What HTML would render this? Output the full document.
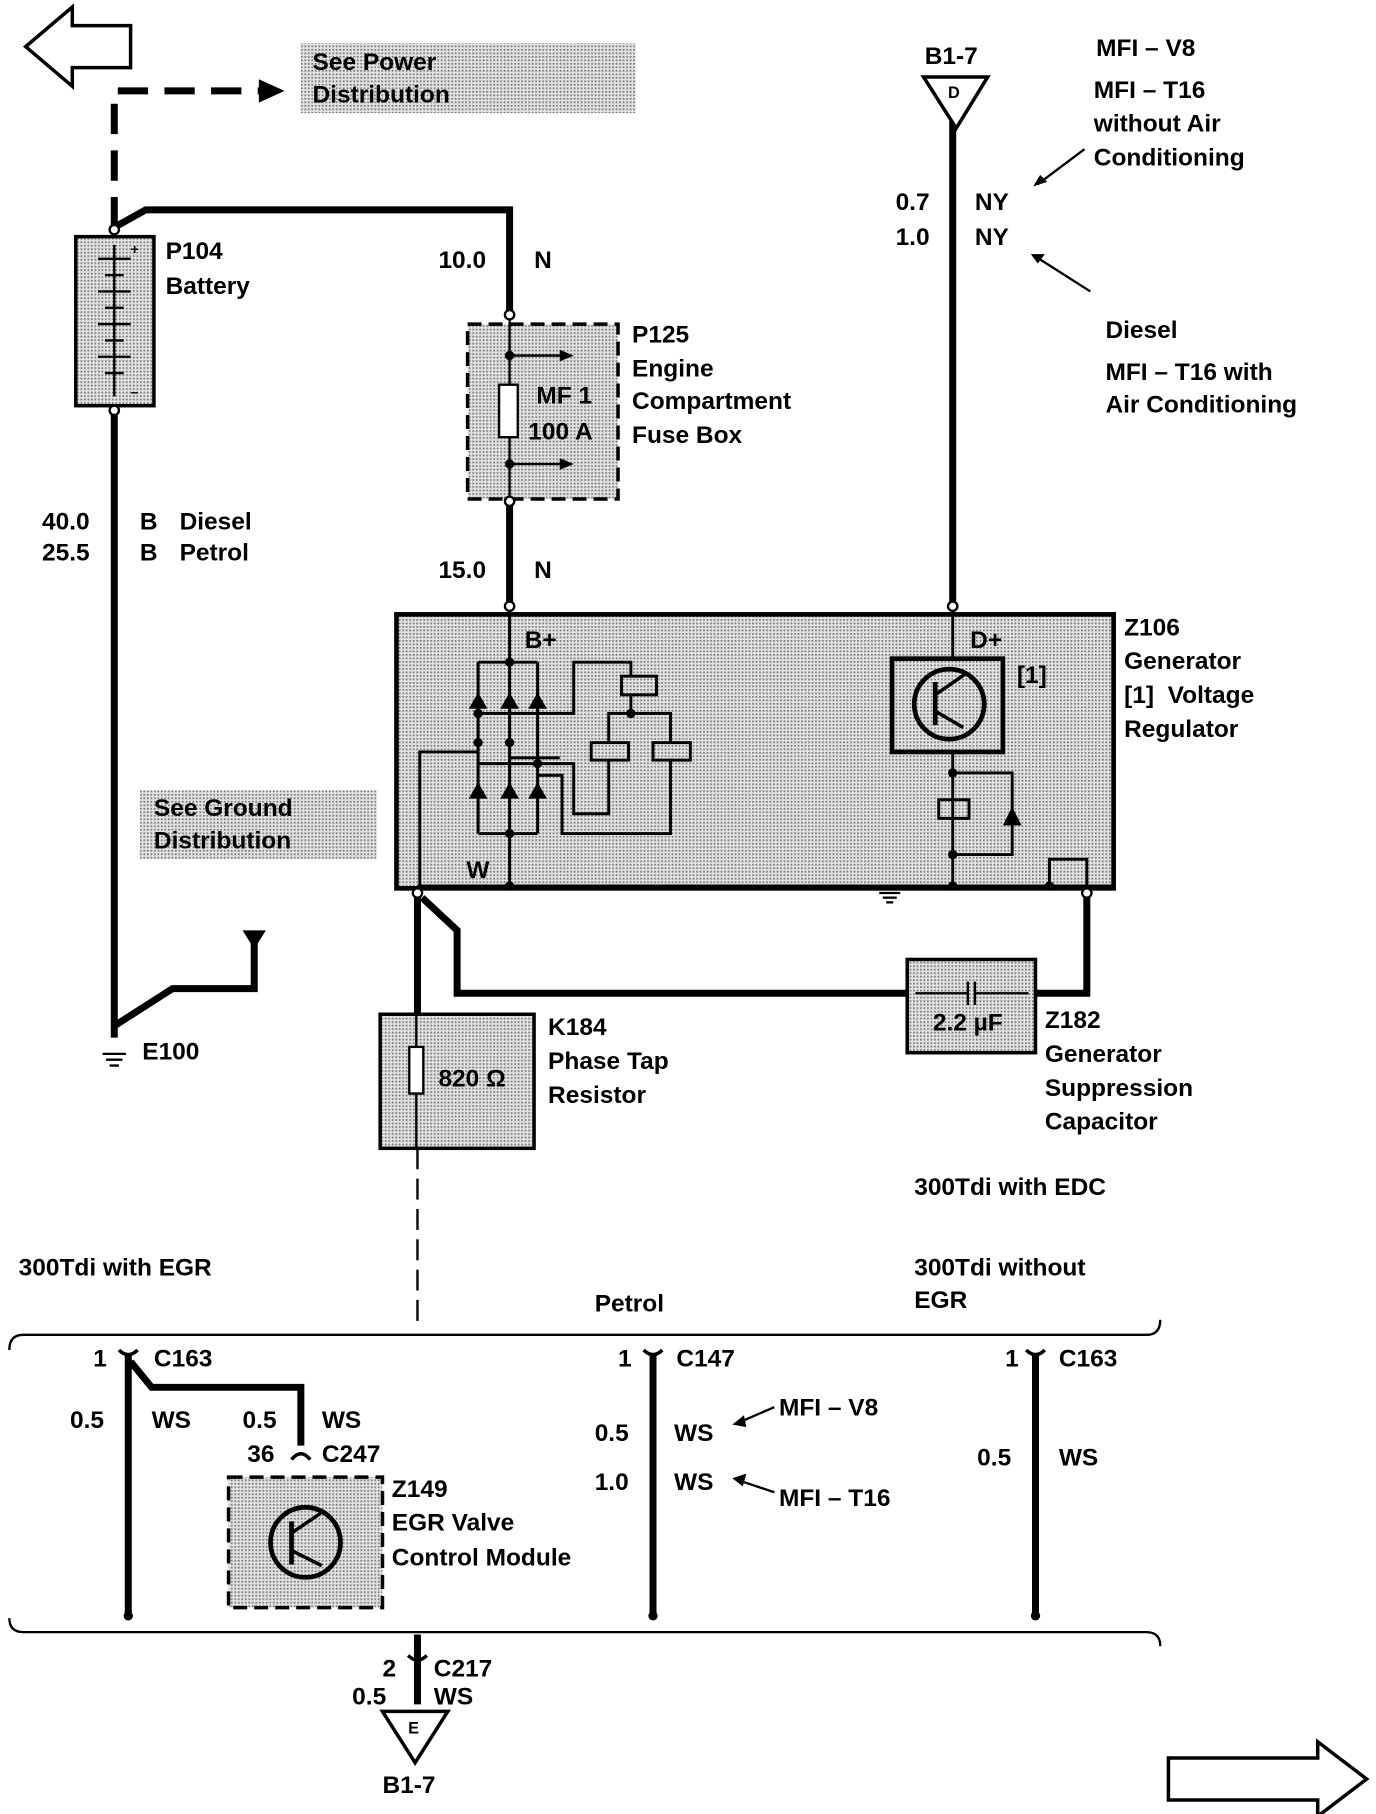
<!DOCTYPE html>
<html><head><meta charset="utf-8"><style>
html,body{margin:0;padding:0;background:#fff;}
svg{display:block;}
text{font-family:"Liberation Sans",Arial,sans-serif;font-weight:bold;font-size:21px;fill:#000;}
</style></head><body>
<svg width="1376" height="1814" viewBox="0 0 1180 1556" preserveAspectRatio="none" xmlns="http://www.w3.org/2000/svg">
<defs>
<pattern id="dots" width="3" height="3" patternUnits="userSpaceOnUse">
<rect width="3" height="3" fill="#e2e2e2"/><rect width="1.5" height="1.5" fill="#7a7a7a"/>
</pattern>
</defs>
<g stroke="#000" fill="none" stroke-width="3">
<!-- top-left arrow -->
<polygon points="22,40 62,6 62,22 112,22 112,58 62,58 62,74" stroke-width="3" fill="#fff"/>
<!-- bottom-right arrow -->
<polygon points="1002,1508 1130,1508 1130,1494 1172,1526 1130,1558 1130,1544 1002,1544" fill="#fff"/>
</g>
<rect x="258" y="37" width="287" height="60" fill="url(#dots)"/>
<text x="268" y="60">See Power</text><text x="268" y="88">Distribution</text>
<rect x="120" y="678" width="203" height="59" fill="url(#dots)"/>
<text x="132" y="700">See Ground</text><text x="132" y="728">Distribution</text>

<g stroke="#000" fill="none" stroke-width="6">
<polyline points="98,195 98,78 225,78" stroke-dasharray="26,14"/>
<polyline points="98,352 98,890"/>
<polyline points="98,880 148,848 218,848 218,808"/>
<polyline points="98,195 125,180 437,180 437,268"/>
<line x1="437" y1="430" x2="437" y2="518"/>
<line x1="817" y1="96" x2="817" y2="518"/>
<polyline points="358,770 358,870"/>
<polyline points="362,770 392,798 392,852 778,852"/>
<polyline points="888,852 932,852 932,768"/>
</g>
<polygon points="222,68 244,78 222,88" fill="#000"/>
<polygon points="208,798 228,798 218,814" fill="#000"/>
<!-- ground E100 -->
<g stroke="#000" stroke-width="2"><line x1="88" y1="904" x2="108" y2="904"/><line x1="91" y1="909" x2="105" y2="909"/><line x1="94" y1="914" x2="102" y2="914"/></g>
<text x="122" y="909">E100</text>

<!-- battery -->
<rect x="65" y="203" width="67" height="145" fill="url(#dots)" stroke="#000" stroke-width="3"/>
<g stroke="#000" stroke-width="2">
<line x1="98" y1="210" x2="98" y2="340"/>
<line x1="84" y1="222" x2="112" y2="222"/><line x1="90" y1="236" x2="106" y2="236"/>
<line x1="84" y1="250" x2="112" y2="250"/><line x1="90" y1="264" x2="106" y2="264"/>
<line x1="84" y1="278" x2="112" y2="278"/><line x1="90" y1="292" x2="106" y2="292"/>
<line x1="84" y1="306" x2="112" y2="306"/><line x1="90" y1="320" x2="106" y2="320"/>
</g>
<text x="112" y="218" style="font-size:12px">+</text><text x="112" y="340" style="font-size:12px">–</text>
<circle cx="98" cy="197" r="4" fill="#fff" stroke="#000" stroke-width="2"/>
<circle cx="98" cy="352" r="4" fill="#fff" stroke="#000" stroke-width="2"/>
<text x="142" y="222">P104</text><text x="142" y="252">Battery</text>
<text x="36" y="454">40.0</text><text x="120" y="454">B</text><text x="154" y="454">Diesel</text>
<text x="36" y="481">25.5</text><text x="120" y="481">B</text><text x="154" y="481">Petrol</text>

<!-- fuse box -->
<rect x="401" y="278" width="129" height="150" fill="url(#dots)" stroke="#000" stroke-width="3" stroke-dasharray="12,6"/>
<g stroke="#000" stroke-width="2" fill="none">
<line x1="437" y1="270" x2="437" y2="430"/>
<rect x="428" y="330" width="16" height="45" fill="#fff"/>
<line x1="437" y1="305" x2="485" y2="305"/><line x1="437" y1="398" x2="485" y2="398"/>
</g>
<polygon points="480,300 492,305 480,310" fill="#000"/><polygon points="480,393 492,398 480,403" fill="#000"/>
<circle cx="437" cy="305" r="4" fill="#000"/><circle cx="437" cy="398" r="4" fill="#000"/>
<circle cx="437" cy="270" r="4" fill="#fff" stroke="#000" stroke-width="2"/>
<circle cx="437" cy="430" r="4" fill="#fff" stroke="#000" stroke-width="2"/>
<text x="460" y="346">MF 1</text><text x="453" y="377">100 A</text>
<text x="542" y="294">P125</text><text x="542" y="323">Engine</text><text x="542" y="351">Compartment</text><text x="542" y="380">Fuse Box</text>
<text x="376" y="230">10.0</text><text x="458" y="230">N</text>
<text x="376" y="496">15.0</text><text x="458" y="496">N</text>

<!-- D connector top -->
<polygon points="792,66 847,66 820,110" fill="#fff" stroke="#000" stroke-width="3"/>
<text x="813" y="84" style="font-size:14px">D</text>
<text x="793" y="55">B1-7</text>
<text x="940" y="48">MFI – V8</text>
<text x="938" y="84">MFI – T16</text><text x="938" y="113">without Air</text><text x="938" y="142">Conditioning</text>
<text x="768" y="180">0.7</text><text x="836" y="180">NY</text>
<text x="768" y="210">1.0</text><text x="836" y="210">NY</text>
<g stroke="#000" stroke-width="2"><line x1="930" y1="128" x2="890" y2="158"/><line x1="935" y1="250" x2="888" y2="220"/></g>
<polygon points="886,160 892,150 898,156" fill="#000"/><polygon points="884,218 896,218 890,226" fill="#000"/>
<text x="948" y="290">Diesel</text>
<text x="948" y="326">MFI – T16 with</text><text x="948" y="354">Air Conditioning</text>

<!-- generator -->
<rect x="340" y="527" width="615" height="235" fill="url(#dots)" stroke="#000" stroke-width="4"/>
<g stroke="#000" stroke-width="2.5" fill="none">
<line x1="437" y1="520" x2="437" y2="760"/>
<polyline points="410,568 461,568"/>
<line x1="410" y1="568" x2="410" y2="715"/><line x1="461" y1="568" x2="461" y2="715"/>
<line x1="410" y1="715" x2="461" y2="715"/>
<polyline points="410,612 492,612 492,568 541,568 541,580"/>
<rect x="533" y="580" width="30" height="16"/>
<polyline points="541,596 541,612 575,612 575,637"/>
<polyline points="541,612 522,612 522,637"/>
<rect x="507" y="637" width="32" height="15"/><rect x="560" y="637" width="32" height="15"/>
<polyline points="522,652 522,698 492,698 492,655 410,655"/>
<polyline points="575,652 575,715 482,715 482,665 461,665"/>
<polyline points="360,765 360,645 410,645"/>
<line x1="437" y1="650" x2="480" y2="650"/>
<line x1="817" y1="520" x2="817" y2="565"/>
<rect x="765" y="565" width="95" height="80" stroke-width="4"/>
<circle cx="814" cy="604" r="30" stroke-width="4"/>
<line x1="802" y1="585" x2="802" y2="622" stroke-width="4"/>
<line x1="802" y1="596" x2="828" y2="578" stroke-width="3"/><line x1="802" y1="610" x2="826" y2="624" stroke-width="3"/>
<line x1="817" y1="645" x2="817" y2="760"/>
<polyline points="817,663 868,663 868,733 817,733"/>
<rect x="805" y="686" width="26" height="16"/>
<line x1="358" y1="760" x2="955" y2="760"/>
<polyline points="900,760 900,737 932,737 932,760"/>
</g>
<g fill="#000">
<polygon points="402,608 418,608 410,594"/><polygon points="429,608 445,608 437,594"/><polygon points="453,608 469,608 461,594"/>
<polygon points="402,685 418,685 410,671"/><polygon points="429,685 445,685 437,671"/><polygon points="453,685 469,685 461,671"/>
<polygon points="860,708 876,708 868,692"/>
<circle cx="437" cy="568" r="4"/><circle cx="410" cy="612" r="4"/><circle cx="410" cy="637" r="4"/><circle cx="437" cy="637" r="4"/>
<circle cx="461" cy="655" r="4"/><circle cx="541" cy="612" r="4"/><circle cx="437" cy="715" r="4"/>
<circle cx="437" cy="760" r="4"/><circle cx="817" cy="663" r="4"/><circle cx="817" cy="733" r="4"/><circle cx="817" cy="760" r="4"/><circle cx="900" cy="760" r="4"/>
</g>
<g stroke="#000" stroke-width="2"><line x1="754" y1="766" x2="772" y2="766"/><line x1="757" y1="770" x2="769" y2="770"/><line x1="760" y1="774" x2="766" y2="774"/></g>
<circle cx="437" cy="520" r="4" fill="#fff" stroke="#000" stroke-width="2"/>
<circle cx="817" cy="520" r="4" fill="#fff" stroke="#000" stroke-width="2"/>
<circle cx="358" cy="766" r="4" fill="#fff" stroke="#000" stroke-width="2"/>
<circle cx="932" cy="766" r="4" fill="#fff" stroke="#000" stroke-width="2"/>
<text x="450" y="556">B+</text><text x="832" y="556">D+</text><text x="872" y="586">[1]</text><text x="400" y="753">W</text>
<text x="964" y="545">Z106</text><text x="964" y="574">Generator</text><text x="964" y="603">[1]&#160;&#160;Voltage</text><text x="964" y="632">Regulator</text>

<!-- K184 -->
<rect x="326" y="870" width="132" height="115" fill="url(#dots)" stroke="#000" stroke-width="3"/>
<g stroke="#000" stroke-width="2" fill="none"><line x1="357" y1="870" x2="357" y2="985"/><rect x="351" y="898" width="12" height="40" fill="#fff"/></g>
<text x="376" y="932">820 Ω</text>
<text x="470" y="888">K184</text><text x="470" y="917">Phase Tap</text><text x="470" y="946">Resistor</text>
<!-- Z182 -->
<rect x="778" y="823" width="110" height="80" fill="url(#dots)" stroke="#000" stroke-width="3"/>
<g stroke="#000" stroke-width="2"><line x1="785" y1="852" x2="830" y2="852"/><line x1="836" y1="852" x2="882" y2="852"/><line x1="830" y1="842" x2="830" y2="862"/><line x1="836" y1="842" x2="836" y2="862"/></g>
<text x="800" y="884">2.2 µF</text>
<text x="896" y="882">Z182</text><text x="896" y="911">Generator</text><text x="896" y="940">Suppression</text><text x="896" y="969">Capacitor</text>
<line x1="358" y1="985" x2="358" y2="1140" stroke="#000" stroke-width="2" stroke-dasharray="18,8"/>

<text x="784" y="1025">300Tdi with EDC</text>
<text x="16" y="1094">300Tdi with EGR</text>
<text x="784" y="1094">300Tdi without</text><text x="784" y="1122">EGR</text>
<text x="510" y="1125">Petrol</text>

<!-- brackets -->
<g stroke="#000" stroke-width="2" fill="none">
<path d="M8,1158 Q8,1145 20,1145 L983,1145 Q995,1145 995,1132"/>
<path d="M8,1388 Q8,1400 20,1400 L983,1400 Q995,1400 995,1412"/>
</g>
<g stroke="#000" stroke-width="6" fill="none">
<line x1="110" y1="1162" x2="110" y2="1385"/>
<polyline points="112,1168 130,1190 258,1190 258,1240"/>
<line x1="560" y1="1162" x2="560" y2="1385"/>
<line x1="888" y1="1162" x2="888" y2="1385"/>
<line x1="358" y1="1402" x2="358" y2="1462"/>
</g>
<g fill="#000">
<circle cx="110" cy="1386" r="4"/><circle cx="560" cy="1386" r="4"/><circle cx="888" cy="1386" r="4"/>
</g>
<g stroke="#000" stroke-width="3" fill="none">
<path d="M102,1158 Q110,1166 118,1158"/><path d="M552,1158 Q560,1166 568,1158"/><path d="M880,1158 Q888,1166 896,1158"/>
<path d="M250,1252 Q258,1242 266,1252"/><path d="M350,1420 Q358,1428 366,1420"/>
</g>
<text x="80" y="1172">1</text><text x="132" y="1172">C163</text>
<text x="530" y="1172">1</text><text x="580" y="1172">C147</text>
<text x="862" y="1172">1</text><text x="908" y="1172">C163</text>
<text x="60" y="1225">0.5</text><text x="130" y="1225">WS</text>
<text x="208" y="1225">0.5</text><text x="276" y="1225">WS</text>
<text x="212" y="1254">36</text><text x="276" y="1254">C247</text>
<text x="510" y="1236">0.5</text><text x="578" y="1236">WS</text>
<text x="510" y="1278">1.0</text><text x="578" y="1278">WS</text>
<text x="668" y="1214">MFI – V8</text><text x="668" y="1292">MFI – T16</text>
<g stroke="#000" stroke-width="2"><line x1="664" y1="1207" x2="634" y2="1220"/><line x1="664" y1="1280" x2="634" y2="1270"/></g>
<polygon points="628,1222 638,1214 640,1224" fill="#000"/><polygon points="628,1268 640,1264 637,1275" fill="#000"/>
<text x="838" y="1257">0.5</text><text x="908" y="1257">WS</text>
<!-- Z149 -->
<rect x="196" y="1267" width="132" height="112" fill="url(#dots)" stroke="#000" stroke-width="3" stroke-dasharray="12,6"/>
<g stroke="#000" fill="none"><circle cx="262" cy="1323" r="30" stroke-width="4"/><line x1="250" y1="1305" x2="250" y2="1342" stroke-width="4"/>
<line x1="250" y1="1315" x2="275" y2="1298" stroke-width="3"/><line x1="250" y1="1330" x2="276" y2="1343" stroke-width="3"/></g>
<text x="336" y="1284">Z149</text><text x="336" y="1313">EGR Valve</text><text x="336" y="1343">Control Module</text>
<!-- bottom connector -->
<text x="328" y="1438">2</text><text x="372" y="1438">C217</text>
<text x="302" y="1462">0.5</text><text x="372" y="1462">WS</text>
<polygon points="328,1468 384,1468 356,1512" fill="#fff" stroke="#000" stroke-width="3"/>
<text x="350" y="1487" style="font-size:14px">E</text>
<text x="328" y="1538">B1-7</text>
</svg>
</body></html>
